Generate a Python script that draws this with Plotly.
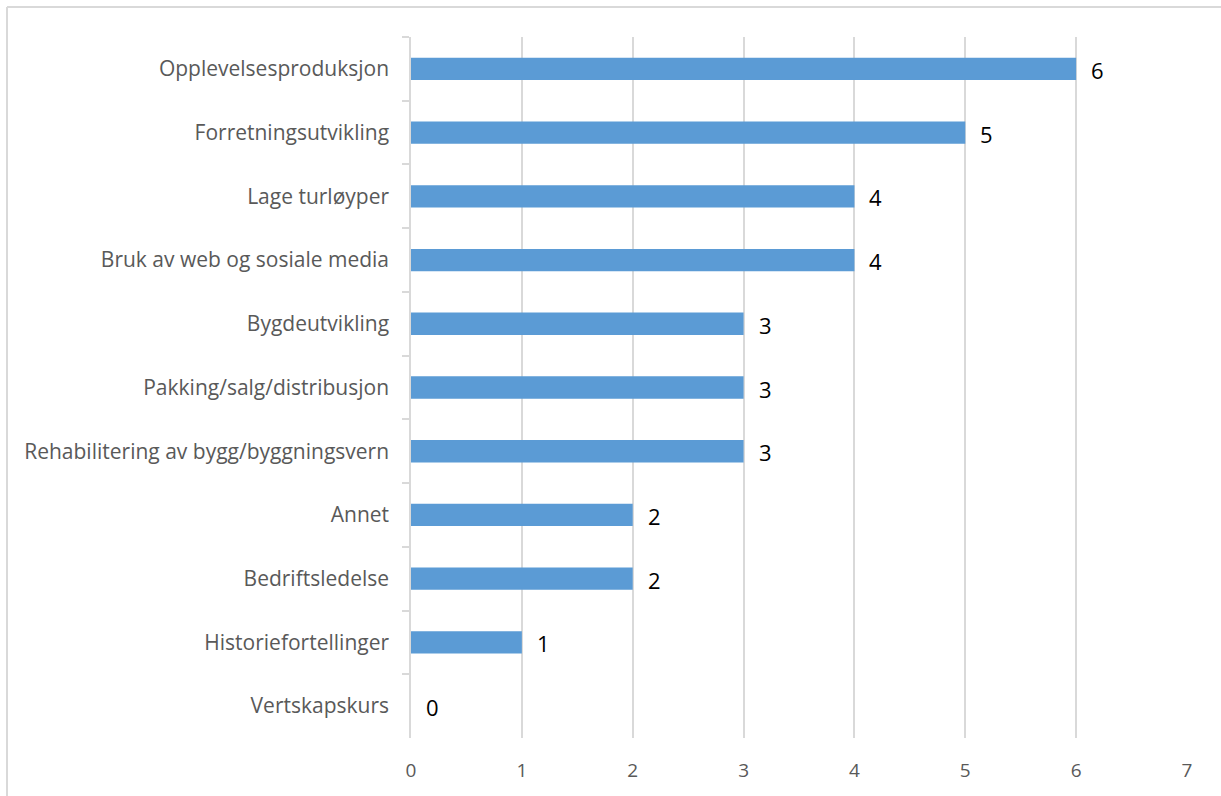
import plotly.graph_objects as go

categories = [
    "Opplevelsesproduksjon",
    "Forretningsutvikling",
    "Lage turløyper",
    "Bruk av web og sosiale media",
    "Bygdeutvikling",
    "Pakking/salg/distribusjon",
    "Rehabilitering av bygg/byggningsvern",
    "Annet",
    "Bedriftsledelse",
    "Historiefortellinger",
    "Vertskapskurs",
]
values = [6, 5, 4, 4, 3, 3, 3, 2, 2, 1, 0]
x_ticks = [0, 1, 2, 3, 4, 5, 6, 7]

BAR = "#5b9bd5"
GRID = "#d9d9d9"
LABEL = "#595959"
FONT = "Open Sans"

fig = go.Figure(
    go.Bar(
        x=values,
        y=categories,
        orientation="h",
        marker=dict(color=BAR, line=dict(width=0)),
        hoverinfo="skip",
    )
)

# value labels to the right of each bar
for cat, v in zip(categories, values):
    fig.add_annotation(
        x=v, y=cat, text=str(v), showarrow=False,
        xanchor="left", yanchor="middle", xshift=13, yshift=-1,
        font=dict(family=FONT, size=22, color="#000000"),
    )

fig.update_layout(
    width=1221, height=796,
    margin=dict(l=411, r=34, t=37, b=58),
    paper_bgcolor="white", plot_bgcolor="white",
    showlegend=False,
    bargap=0.65,
    font=dict(family=FONT, size=21, color=LABEL),
    xaxis=dict(
        range=[0, 7], tickvals=x_ticks, ticktext=[str(t) for t in x_ticks],
        showgrid=True, gridcolor=GRID, gridwidth=1.5,
        zeroline=False, showline=False, ticks="",
        tickfont=dict(family=FONT, size=19, color=LABEL),
        ticklabelstandoff=19,
    ),
    yaxis=dict(
        categoryorder="array", categoryarray=categories, autorange="reversed",
        showline=True, linecolor=GRID, linewidth=1.5,
        ticks="outside", tickson="boundaries", ticklen=7, tickcolor=GRID, tickwidth=1.5,
        showgrid=False, zeroline=False,
        tickfont=dict(family=FONT, size=21, color=LABEL),
        ticklabelstandoff=16,
    ),
)

# outer chart frame (left and top edges)
fig.add_shape(type="line", xref="paper", yref="paper",
              x0=-404 / 776, x1=(1221 - 411) / 776, y0=1 + 30 / 701, y1=1 + 30 / 701,
              line=dict(color=GRID, width=2))
fig.add_shape(type="line", xref="paper", yref="paper",
              x0=-404 / 776, x1=-404 / 776, y0=1 + 30 / 701, y1=-58 / 701,
              line=dict(color=GRID, width=2))

fig.write_html("out.html")
